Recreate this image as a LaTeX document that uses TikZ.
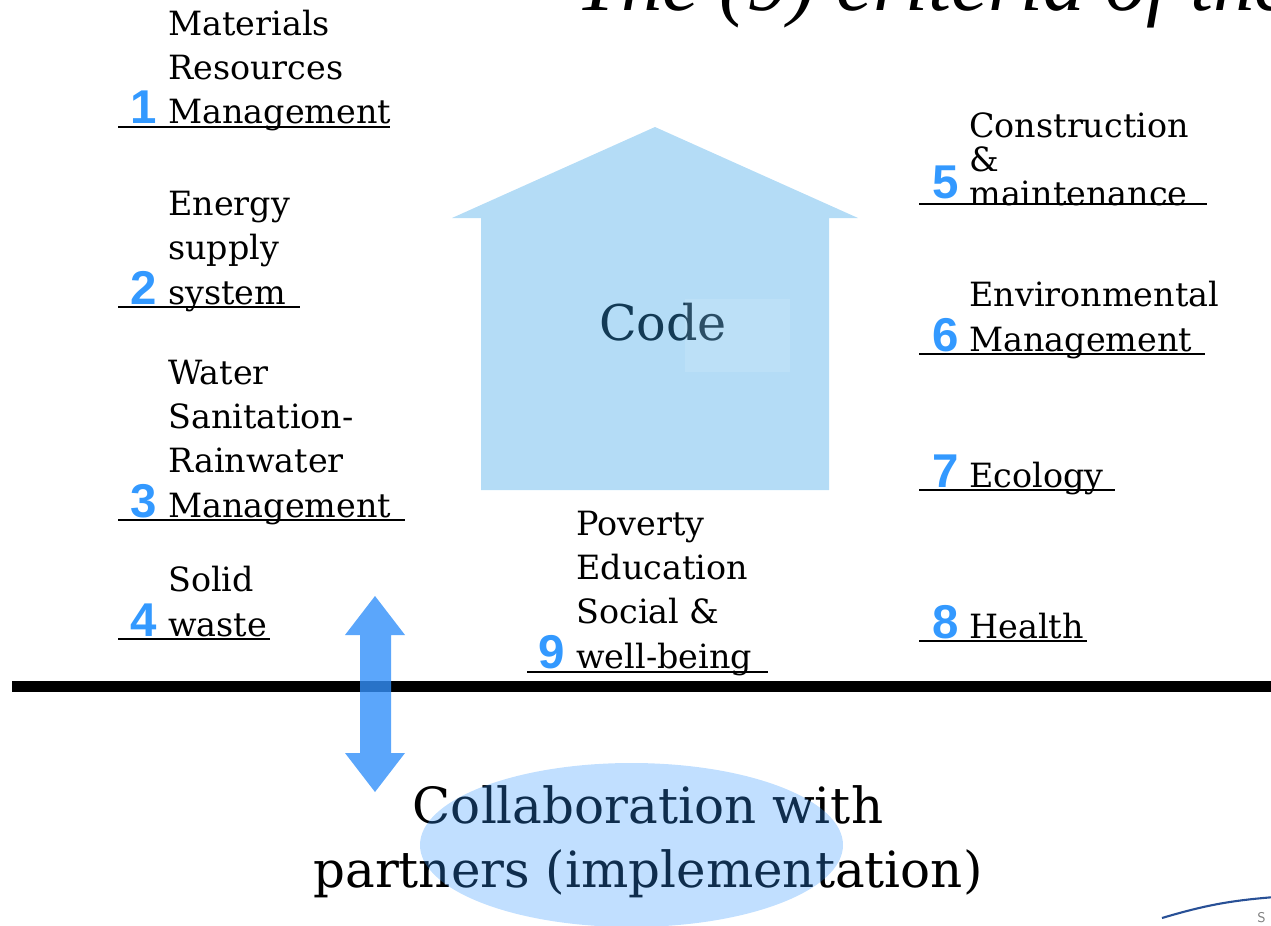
\documentclass[tikz,border=0pt]{standalone}
\usepackage{fontspec}
\setmainfont{DejaVu Serif}
\newfontfamily\numfont{Liberation Sans}
\newfontfamily\titlefont{Liberation Serif}
\usetikzlibrary{positioning}
\definecolor{numblue}{RGB}{51,153,255}
\definecolor{housefill}{RGB}{52,160,231}
\definecolor{arrowblue}{RGB}{50,144,250}
\definecolor{ovalfill}{RGB}{50,150,255}
\definecolor{logoblue}{RGB}{40,80,150}
\tikzset{
  crit/.style = {font=\fontsize{19}{25.2}\selectfont, align=left, inner sep=0pt, anchor=base west},
  num/.style = {font=\numfont\bfseries\fontsize{27}{27}\selectfont, text=numblue, inner sep=0pt, anchor=base east},
  uline/.style = {line width=1.1pt},
}
\begin{document}
\begin{tikzpicture}[x=0.02cm, y=-0.02cm]
	\useasboundingbox (0,0) rectangle (1271,926);
	% title, cut by the page
	\node[font=\titlefont\itshape\fontsize{47}{47}\selectfont, inner sep=0pt, anchor=base west] (title) at (575,11) {The (9) criteria of the};
	% left column
	\node[crit] (t1) at (168,124) {Materials\\Resources\\Management};
	\node[num] (n1) at (157,124) {1};
	\draw[uline] (118,127) -- (390,127);
	\node[crit] (t2) at (168,304) {Energy\\supply\\system};
	\node[num] (n2) at (157,304) {2};
	\draw[uline] (118,307) -- (300,307);
	\node[crit] (t3) at (168,517) {Water\\Sanitation-\\Rainwater\\Management};
	\node[num] (n3) at (157,517) {3};
	\draw[uline] (118,520) -- (405,520);
	\node[crit] (t4) at (168,636) {Solid\\waste};
	\node[num] (n4) at (157,636) {4};
	\draw[uline] (118,639) -- (270,639);
	% right column
	\node[crit] (t5) at (969,205) {Construction\\[-6pt]\&\\[-6pt]maintenance};
	\node[num] (n5) at (959,198) {5};
	\draw[uline] (919,204) -- (1207,204);
	\node[crit] (t6) at (969,351) {Environmental\\Management};
	\node[num] (n6) at (959,351) {6};
	\draw[uline] (919,354) -- (1205,354);
	\node[crit] (t7) at (969,487) {Ecology};
	\node[num] (n7) at (959,487) {7};
	\draw[uline] (919,490) -- (1115,490);
	\node[crit] (t8) at (969,638) {Health};
	\node[num] (n8) at (959,638) {8};
	\draw[uline] (919,641) -- (1087,641);
	% middle
	\node[crit] (t9) at (576,668) {Poverty\\Education\\Social \&\\well-being};
	\node[num] (n9) at (565,668) {9};
	\draw[uline] (527,672) -- (768,672);
	\node[font=\fontsize{28}{28}\selectfont, inner sep=0pt, anchor=base] (code) at (663,340) {Code};
	\node[font=\fontsize{28.4}{36.3}\selectfont, align=center, inner sep=0pt, anchor=base] (collab) at (648,887) {Collaboration with\\partners (implementation)};
	% house over the text
	\fill[housefill, opacity=0.37] (655,127) -- (858,218) -- (829,218) -- (829,490) -- (481,490) -- (481,218) -- (452,218) -- cycle;
	\fill[white, opacity=0.1] (685,299) rectangle (790,372);
	% ground line and arrow
	\draw[line width=5.7pt] (12,686.5) -- (1280,686.5);
	\fill[arrowblue, opacity=0.8] (375,596) -- (405,635) -- (391,635) -- (391,753) -- (405,753) -- (375,792) -- (345,753) -- (360,753) -- (360,635) -- (345,635) -- cycle;
	\fill[ovalfill, opacity=0.3] (631.5,845) ellipse [x radius=211.5, y radius=82];
	% logo corner
	\draw[logoblue, line width=1.2pt] (1162,918) to[bend left=6] (1275,897);
	\node[font=\sffamily\fontsize{8}{8}\selectfont, text=gray, inner sep=0pt, anchor=base west] (logo) at (1257,922) {S};
\end{tikzpicture}
\end{document}
